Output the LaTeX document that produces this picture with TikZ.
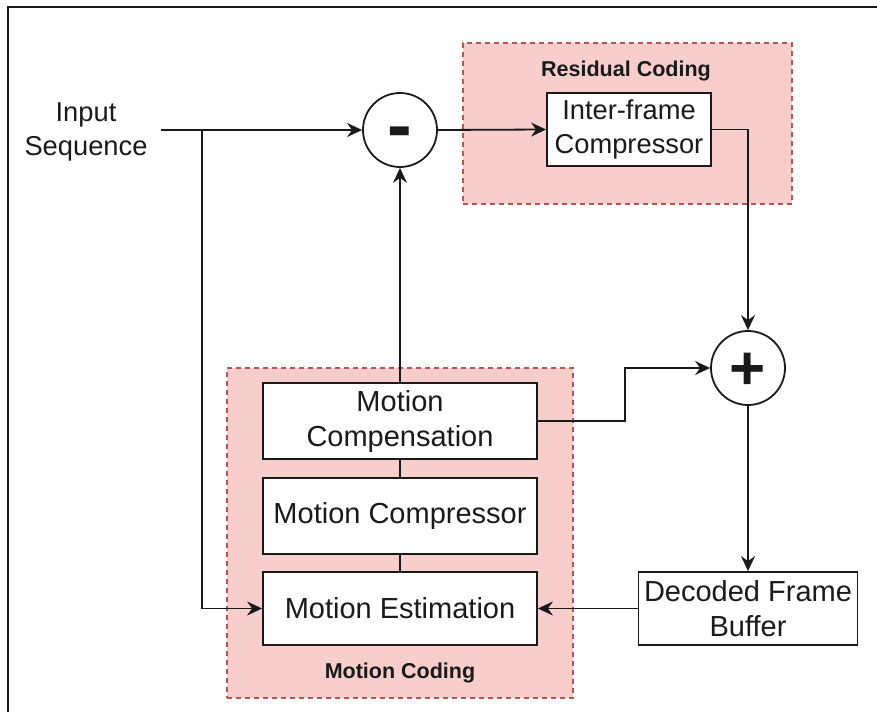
\documentclass[tikz,border=0pt]{standalone}
\usepackage{fontspec}
\setmainfont{Liberation Sans}
\usetikzlibrary{arrows.meta}
\definecolor{regfill}{HTML}{F8CECC}
\definecolor{regline}{HTML}{B85450}
\definecolor{ink}{HTML}{1A1A1A}
\begin{document}
\begin{tikzpicture}[x=1pt,y=-1pt,
  every node/.style={font=\fontsize{29}{35}\selectfont, text=ink},
  small/.style={font=\fontsize{27.3}{34}\selectfont},
  box/.style={draw=ink, fill=white, line width=1.8pt, align=center, inner sep=0pt},
  region/.style={draw=regline, fill=regfill, dash pattern=on 5pt off 4pt, line width=1.4pt, inner sep=0pt},
  sumnode/.style={circle, draw=ink, fill=white, line width=1.8pt, minimum size=74pt, inner sep=0pt},
  link/.style={draw=ink, line width=1.8pt},
  flow/.style={link, -{Stealth[length=15pt,width=14pt,inset=5pt]}},
  tag/.style={font=\bfseries\fontsize{21.5}{24}\selectfont}
]
\useasboundingbox (0,0) rectangle (877,712);

% outer frame (only top and left edges fall inside the page)
\draw[ink, line width=1.8pt] (8,712) -- (8,7) -- (877,7);

% shaded groups
\node[region, minimum width=329pt, minimum height=161pt] (rescode) at (627.5,123.5) {};
\node[region, minimum width=346pt, minimum height=330pt] (motcode) at (400,533) {};
\node[tag] (rclabel) at (626,71) {Residual Coding};
\node[tag] (mclabel) at (400,673) {Motion Coding};

% blocks
\node[small, inner xsep=13pt, inner ysep=0pt, align=center] (inseq) at (86,132) {Input\\Sequence};
\node[sumnode] (minus) at (400,130) {};
\node[font=\bfseries\fontsize{74}{74}\selectfont] (minussign) at (400,139) {-};
\node[sumnode] (plus) at (748,368) {};
\node[font=\bfseries\fontsize{62}{62}\selectfont] (plussign) at (748,371) {+};
\node[box, small, minimum width=164pt, minimum height=73pt] (inter) at (629,129.5) {Inter-frame\\Compressor};
\node[box, minimum width=274pt, minimum height=76pt] (mcomp) at (400,421) {Motion\\Compensation};
\node[box, minimum width=274pt, minimum height=76pt] (mcpr) at (400,516) {Motion Compressor};
\node[box, minimum width=274pt, minimum height=73pt] (mest) at (400,608.5) {Motion Estimation};
\node[box, minimum width=219pt, minimum height=73pt] (dfb) at (748,608.5) {Decoded Frame\\Buffer};

% connectors
\coordinate (split) at (202,130);
\draw[flow] (inseq.east |- minus.west) -- (minus.west);
\draw[flow] (split) |- (mest.west);
\draw[flow] (minus.east) -- (inter.west);
\draw[flow] (inter.east) -| (plus.north);
\draw[flow] (mcomp.north) -- (minus.south);
\draw[flow] (mcomp.east) -- ++(87,0) |- (plus.west);
\draw[flow] (plus.south) -- (dfb.north);
\draw[flow] (dfb.west) -- (mest.east);
\draw[link] (mcomp.south) -- (mcpr.north);
\draw[link] (mcpr.south) -- (mest.north);
\end{tikzpicture}
\end{document}
